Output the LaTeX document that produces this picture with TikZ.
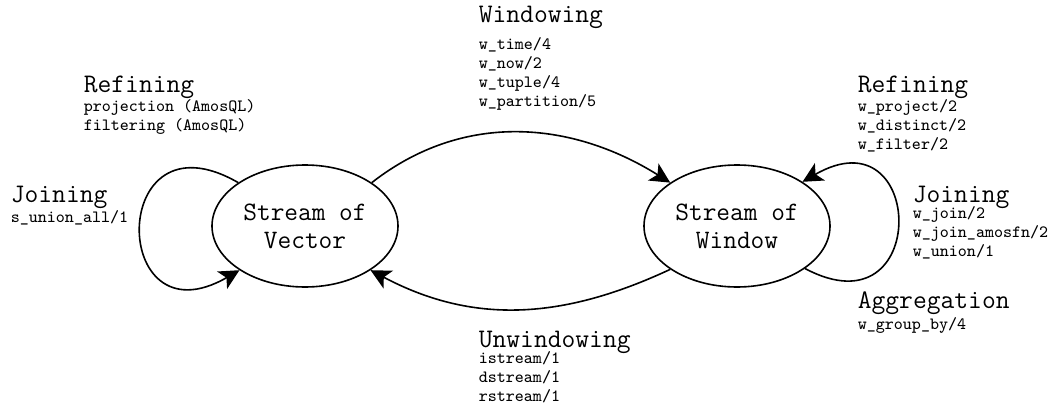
\documentclass[tikz,border=0pt]{standalone}
\usepackage{tikz}
\usetikzlibrary{shapes.geometric,arrows.meta}

\begin{document}
\begin{tikzpicture}[x=0.5pt,y=0.5pt,line width=0.8pt,
    state/.style={draw,ellipse,minimum width=93pt,minimum height=61pt,inner sep=0pt,
      align=center,font=\ttfamily\fontsize{13.3}{14}\selectfont},
    grp/.style={inner sep=0pt,anchor=base west,font=\ttfamily\fontsize{13.4}{15}\selectfont},
    ops/.style={inner sep=0pt,anchor=north west,align=left,execute at begin node=\strut,
      font=\ttfamily\fontsize{8.6}{9.5}\selectfont},
    tr/.style={-{Stealth[length=10pt,width=10pt,inset=2.5pt]}}] % stream kinds and their operators
        \useasboundingbox (0,0) rectangle (1050,408);
        \node[state] (vec) at (305,182) {Stream of\\Vector};
        \node[state] (win) at (737,182) {Stream of\\Window};
        \draw[tr] (vec.33) to[out=38,in=148] (win.147);
        \draw[tr] (win.-147) to[out=205,in=-28] (vec.-34);
        \draw[tr] (vec.147) to[out=150,in=210,looseness=4.4] (vec.214);
        \draw[tr] (win.-32) to[out=-28,in=30,looseness=4.2] (win.34);
        \node[grp] (winT) at (478,386) {Windowing};
        \node[ops] (winO) at (478,371) {w\_time/4\\w\_now/2\\w\_tuple/4\\w\_partition/5};
        \node[grp] (refVT) at (83,315) {Refining};
        \node[ops] (refVO) at (83,309) {projection (AmosQL)\\filtering (AmosQL)};
        \node[grp] (joinVT) at (10,206) {Joining};
        \node[ops] (joinVO) at (10,200) {s\_union\_all/1};
        \node[grp] (refWT) at (857,315) {Refining};
        \node[ops] (refWO) at (857,309) {w\_project/2\\w\_distinct/2\\w\_filter/2};
        \node[grp] (joinWT) at (912,206) {Joining};
        \node[ops] (joinWO) at (912,202) {w\_join/2\\w\_join\_amosfn/2\\w\_union/1};
        \node[grp] (aggT) at (857,100) {Aggregation};
        \node[ops] (aggO) at (857,93) {w\_group\_by/4};
        \node[grp] (unwT) at (478,61) {Unwindowing};
        \node[ops] (unwO) at (478,57) {istream/1\\dstream/1\\rstream/1};
\end{tikzpicture}
\end{document}
